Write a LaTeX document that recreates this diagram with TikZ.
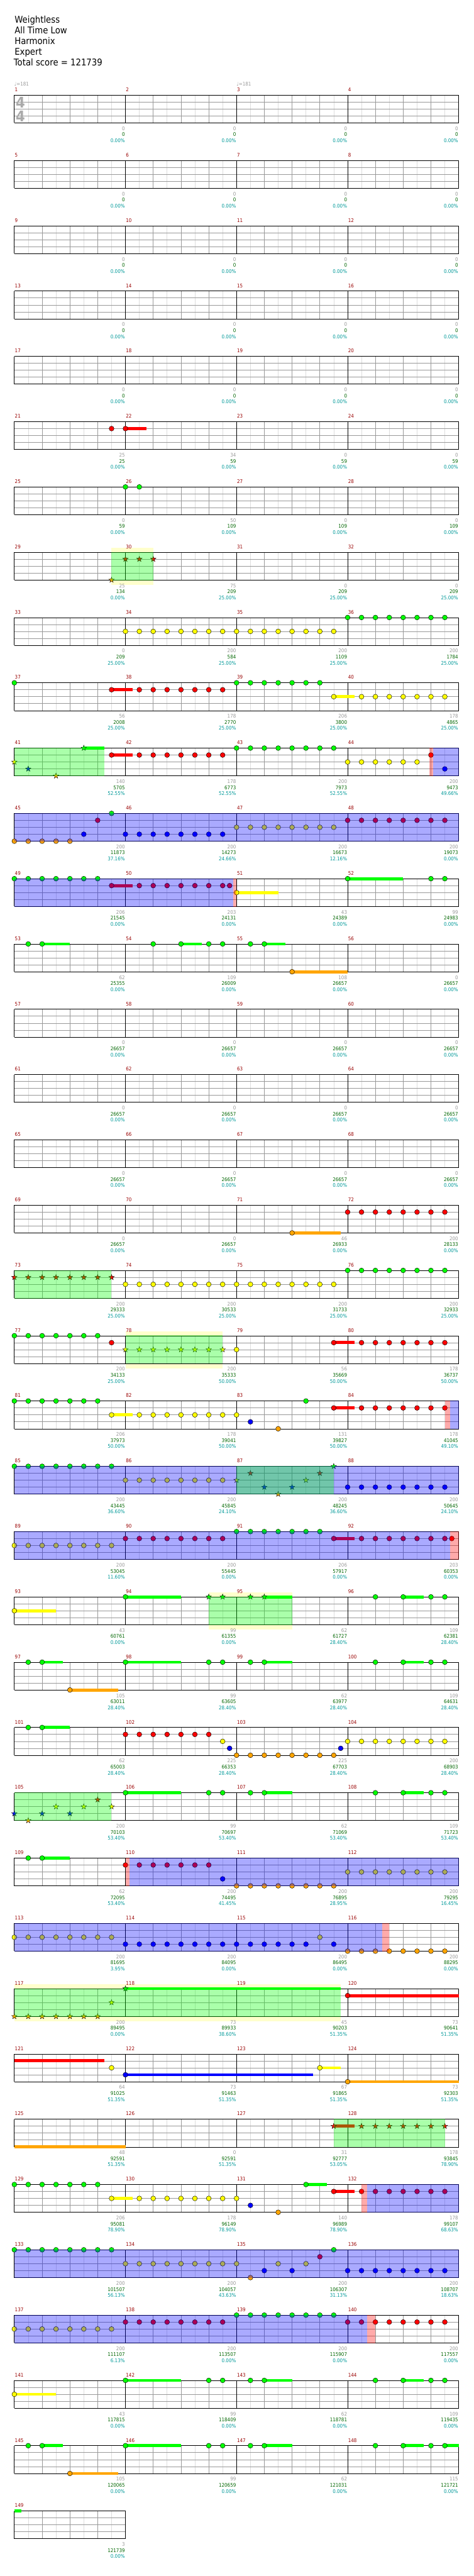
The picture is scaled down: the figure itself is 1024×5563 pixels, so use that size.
\documentclass[tikz,border=0pt]{standalone}
\usepackage{fontspec}
\setmainfont{DejaVu Sans}[FakeStretch=0.9]
\usetikzlibrary{shapes.geometric}
\definecolor{cG}{RGB}{0,255,0}
\definecolor{cR}{RGB}{255,0,0}
\definecolor{cY}{RGB}{255,255,0}
\definecolor{cB}{RGB}{0,0,255}
\definecolor{cO}{RGB}{255,165,0}
\definecolor{cYB}{RGB}{255,255,204}
\definecolor{cML}{RGB}{153,0,0}
\definecolor{cS1}{RGB}{153,153,153}
\definecolor{cS2}{RGB}{0,102,0}
\definecolor{cS3}{RGB}{0,153,153}
\definecolor{cGL}{RGB}{221,221,221}
\definecolor{cGM}{RGB}{153,153,153}
\definecolor{cTS}{RGB}{170,170,170}
\newcommand\chsm{\fontsize{10.8}{12}\selectfont}
\tikzset{
  gl/.style={draw=cGL,line width=0.9pt},
  gm/.style={draw=cGM,line width=0.9pt},
  barl/.style={draw=black,line width=0.9pt},
  mlab/.style={text=cML,font=\chsm,inner sep=0pt,anchor=base west},
  scl/.style={font=\chsm,inner sep=0pt,anchor=base east},
  hd/.style={font=\fontsize{20}{22}\selectfont,inner sep=0pt,anchor=base west},
  tempo/.style={text=cS1,font=\chsm,inner sep=0pt,anchor=base west},
  tsig/.style={text=cTS,font=\fontsize{32}{34}\selectfont\bfseries,inner sep=0pt,anchor=base west},
  starn/.style={star,star points=5,star point ratio=2.5,minimum size=12.5pt,inner sep=0pt,draw=black,line width=0.5pt}
}
\newcommand\chAt[1]{\pgfmathtruncatemacro\rn{#1}\pgfmathsetmacro\ry{205.5+141*(\rn-1)}}
\newcommand\chStaff[1]{%
  \pgfmathsetmacro\xe{31+240*#1}%
  \pgfmathtruncatemacro\ne{8*#1-1}%
  \pgfmathtruncatemacro\nm{#1-1}%
  \fill[white] (31,\ry) rectangle (\xe,{\ry+60});
  \foreach \i in {1,3,...,\ne}{\draw[gl] ({31+30*\i},\ry) -- ({31+30*\i},{\ry+60});}
  \foreach \j in {1,2,3}{\draw[gm] (31,{\ry+15*\j}) -- (\xe,{\ry+15*\j});}
  \foreach \i in {2,4,...,\ne}{\draw[gm] ({31+30*\i},\ry) -- ({31+30*\i},{\ry+60});}
  \foreach \k in {0,...,#1}{\draw[barl] ({31+240*\k},\ry) -- ({31+240*\k},{\ry+60});}
  \draw[barl] (31,\ry) -- (\xe,\ry) (31,{\ry+60}) -- (\xe,{\ry+60});
  \foreach \k in {0,...,\nm}{\pgfmathtruncatemacro\mm{4*(\rn-1)+\k+1}\node[mlab] (m\mm) at ({32+240*\k},{\ry-7.8}) {\mm};}
}
\newcommand\chNote[3]{\fill[#3,draw=black,line width=0.6pt] ({31+30*(#1)},{\ry+15*(#2)}) circle[radius=5.3];}
\newcommand\chNotes[3]{\foreach \p in {#1}{\chNote{\p}{#2}{#3}}}
\newcommand\chSus[4]{\fill[#4] ({31+30*(#1)},{\ry+15*(#3)-3.3}) rectangle ({31+30*(#2)},{\ry+15*(#3)+3.3});}
\newcommand\chStar[3]{\node[starn,fill=#3] (st-\rn-#1-#2) at ({31+30*(#1)},{\ry+15*(#2)}) {};}
\newcommand\chStars[3]{\foreach \p in {#1}{\chStar{\p}{#2}{#3}}}
\newcommand\chOv[3]{\fill[#3,fill opacity=0.333] ({31+30*(#1)},{\ry-0.5}) rectangle ({31+30*(#2)},{\ry+60.5});}
\newcommand\chYb[2]{\fill[cYB] ({31+30*(#1)},{\ry-10}) rectangle ({31+30*(#2)},{\ry+71});}
\newcommand\chSc[4]{%
  \node[scl,text=cS1] (sa-\rn-#1) at ({31+240*#1-1},{\ry+76.2}) {#2};
  \node[scl,text=cS2] (sb-\rn-#1) at ({31+240*#1-1},{\ry+89.2}) {#3};
  \node[scl,text=cS3] (sc-\rn-#1) at ({31+240*#1-1},{\ry+102.2}) {#4\%};}
\begin{document}
\begin{tikzpicture}[x=1pt,y=-1pt]
\useasboundingbox (0,0) rectangle (1024,5563);
\fill[white] (0,0) rectangle (1024,5563);
% header
\node[hd] (t1) at (31.5,49.3) {Weightless};
\node[hd] (t2) at (31.5,72.3) {All Time Low};
\node[hd] (t3) at (31.5,95.3) {Harmonix};
\node[hd] (t4) at (31.5,118.3) {Expert};
\node[hd] (t5) at (29.5,141.3) {Total score = 121739};
% row 1
\chAt{1}\chStaff{4}
\node[tempo] (tp1) at (31,185) {♩=181};
\node[tempo] (tp3) at (511,185) {♩=181};
\node[tsig] (ts1) at (34,232.3) {4};
\node[tsig] (ts2) at (34,262.3) {4};
\foreach \q in {1,...,4}{\chSc{\q}{0}{0}{0.00}}
% empty rows
\foreach \r/\v in {2/0,3/0,4/0,5/0,15/26657,16/26657,17/26657}{\chAt{\r}\chStaff{4}\foreach \q in {1,...,4}{\chSc{\q}{0}{\v}{0.00}}}
% row 6
\chAt{6}\chStaff{4}
\chSus{8}{9.5}{1}{cR}\chNotes{7,8}{1}{cR}
\chSc{1}{25}{25}{0.00}\chSc{2}{34}{59}{0.00}\chSc{3}{0}{59}{0.00}\chSc{4}{0}{59}{0.00}
% row 7
\chAt{7}\chStaff{4}
\chNotes{8,9}{0}{cG}
\chSc{1}{0}{59}{0.00}\chSc{2}{50}{109}{0.00}\chSc{3}{0}{109}{0.00}\chSc{4}{0}{109}{0.00}
% row 8
\chAt{8}\chYb{7}{10}\chStaff{4}
\chStar{7}{4}{cO}\chStars{8,9,10}{1}{cR}
\chOv{7}{10}{cG}
\chSc{1}{25}{134}{0.00}\chSc{2}{75}{209}{25.00}\chSc{3}{0}{209}{25.00}\chSc{4}{0}{209}{25.00}
% row 9
\chAt{9}\chStaff{4}
\chNotes{8,...,23}{2}{cY}\chNotes{24,...,31}{0}{cG}
\chSc{1}{0}{209}{25.00}\chSc{2}{200}{584}{25.00}\chSc{3}{200}{1109}{25.00}\chSc{4}{200}{1784}{25.00}
% row 10
\chAt{10}\chStaff{4}
\chNote{0}{0}{cG}\chSus{7}{8.5}{1}{cR}\chNotes{7,9,10,11,12,13,14,15}{1}{cR}\chNotes{16,...,22}{0}{cG}
\chSus{23}{24.5}{2}{cY}\chNotes{23,25,26,27,28,29,30,31}{2}{cY}
\chSc{1}{56}{2008}{25.00}\chSc{2}{178}{2770}{25.00}\chSc{3}{206}{3800}{25.00}\chSc{4}{178}{4865}{25.00}
% row 11
\chAt{11}\chStaff{4}
\chSus{5}{6.5}{0}{cG}\chStar{0}{2}{cY}\chStar{1}{3}{cB}\chStar{3}{4}{cO}\chStar{5}{0}{cG}
\chSus{7}{8.5}{1}{cR}\chNotes{7,9,10,11,12,13,14,15}{1}{cR}\chNotes{16,...,23}{0}{cG}\chNotes{24,...,29}{2}{cY}
\chNote{30}{1}{cR}\chNote{31}{3}{cB}
\chOv{0}{6.5}{cG}\chOv{29.9}{30.15}{cR}\chOv{30.15}{32}{cB}
\chSc{1}{140}{5705}{52.55}\chSc{2}{178}{6773}{52.55}\chSc{3}{200}{7973}{52.55}\chSc{4}{200}{9473}{49.66}
% row 12
\chAt{12}\chStaff{4}
\chNotes{0,...,4}{4}{cO}\chNote{5}{3}{cB}\chNote{6}{1}{cR}\chNote{7}{0}{cG}\chNotes{8,...,15}{3}{cB}\chNotes{16,...,23}{2}{cY}\chNotes{24,...,31}{1}{cR}
\chOv{0}{32}{cB}
\chSc{1}{200}{11873}{37.16}\chSc{2}{200}{14273}{24.66}\chSc{3}{200}{16673}{12.16}\chSc{4}{200}{19073}{0.00}
% row 13
\chAt{13}\chStaff{4}
\chNotes{0,...,6}{0}{cG}\chSus{7}{8.5}{1}{cR}\chNotes{7,9,10,11,12,13,14,15,15.5}{1}{cR}
\chSus{16}{19}{2}{cY}\chNote{16}{2}{cY}\chSus{24}{28}{0}{cG}\chNotes{24,30,31}{0}{cG}
\chOv{0}{15.75}{cB}\chOv{15.75}{16}{cR}
\chSc{1}{206}{21545}{0.00}\chSc{2}{203}{24131}{0.00}\chSc{3}{43}{24389}{0.00}\chSc{4}{99}{24983}{0.00}
% row 14
\chAt{14}\chStaff{4}
\chSus{2}{4}{0}{cG}\chSus{12}{13.5}{0}{cG}\chSus{18}{19.5}{0}{cG}\chNotes{1,2,10,12,14,15,17,18}{0}{cG}
\chSus{20}{24}{4}{cO}\chNote{20}{4}{cO}
\chSc{1}{62}{25355}{0.00}\chSc{2}{109}{26009}{0.00}\chSc{3}{108}{26657}{0.00}\chSc{4}{0}{26657}{0.00}
% row 18
\chAt{18}\chStaff{4}
\chSus{20}{23.5}{4}{cO}\chNote{20}{4}{cO}\chNotes{24,...,31}{1}{cR}
\chSc{1}{0}{26657}{0.00}\chSc{2}{0}{26657}{0.00}\chSc{3}{46}{26933}{0.00}\chSc{4}{200}{28133}{0.00}
% row 19
\chAt{19}\chStaff{4}
\chStars{0,...,7}{1}{cR}\chNotes{8,...,23}{2}{cY}\chNotes{24,...,31}{0}{cG}
\chOv{0}{7}{cG}
\chSc{1}{200}{29333}{25.00}\chSc{2}{200}{30533}{25.00}\chSc{3}{200}{31733}{25.00}\chSc{4}{200}{32933}{25.00}
% row 20
\chAt{20}\chYb{8}{15}\chStaff{4}
\chNotes{0,...,6}{0}{cG}\chNote{7}{1}{cR}\chStars{8,...,15}{2}{cY}\chNote{16}{2}{cY}
\chSus{23}{24.5}{1}{cR}\chNotes{23,25,26,27,28,29,30,31}{1}{cR}
\chOv{8}{15}{cG}
\chSc{1}{200}{34133}{25.00}\chSc{2}{200}{35333}{50.00}\chSc{3}{56}{35669}{50.00}\chSc{4}{178}{36737}{50.00}
% row 21
\chAt{21}\chStaff{4}
\chNotes{0,...,6}{0}{cG}\chSus{7}{8.5}{2}{cY}\chNotes{7,9,10,11,12,13,14,15,16}{2}{cY}\chNote{17}{3}{cB}\chNote{19}{4}{cO}\chNote{21}{0}{cG}
\chSus{23}{24.5}{1}{cR}\chNotes{23,25,26,27,28,29,30,31}{1}{cR}
\chOv{31}{31.4}{cR}\chOv{31.4}{32}{cB}
\chSc{1}{206}{37973}{50.00}\chSc{2}{178}{39041}{50.00}\chSc{3}{131}{39827}{50.00}\chSc{4}{178}{41045}{49.10}
% row 22
\chAt{22}\chStaff{4}
\chNotes{0,...,7}{0}{cG}\chNotes{8,...,15}{2}{cY}
\chStar{16}{2}{cY}\chStar{17}{1}{cR}\chStar{18}{3}{cB}\chStar{19}{4}{cO}\chStar{20}{3}{cB}\chStar{21}{2}{cY}\chStar{22}{1}{cR}\chStar{23}{0}{cG}
\chNotes{24,...,31}{3}{cB}
\chOv{0}{32}{cB}\chOv{16}{23}{cG}
\chSc{1}{200}{43445}{36.60}\chSc{2}{200}{45845}{24.10}\chSc{3}{200}{48245}{36.60}\chSc{4}{200}{50645}{24.10}
% row 23
\chAt{23}\chStaff{4}
\chNotes{0,...,7}{2}{cY}\chNotes{8,...,15}{1}{cR}\chNotes{16,...,22}{0}{cG}
\chSus{23}{24.5}{1}{cR}\chNotes{23,25,26,27,28,29,30,31,31.5}{1}{cR}
\chOv{0}{31.4}{cB}\chOv{31.4}{32}{cR}
\chSc{1}{200}{53045}{11.60}\chSc{2}{200}{55445}{0.00}\chSc{3}{206}{57917}{0.00}\chSc{4}{203}{60353}{0.00}
% row 24
\chAt{24}\chYb{14}{20}\chStaff{4}
\chSus{0}{3}{2}{cY}\chNote{0}{2}{cY}\chSus{8}{12}{0}{cG}\chNote{8}{0}{cG}
\chSus{18}{20}{0}{cG}\chStars{14,15,17,18}{0}{cG}
\chSus{28}{29.5}{0}{cG}\chNotes{26,28,30,31}{0}{cG}
\chOv{14}{20}{cG}
\chSc{1}{43}{60761}{0.00}\chSc{2}{99}{61355}{0.00}\chSc{3}{62}{61727}{28.40}\chSc{4}{109}{62381}{28.40}
% row 25
\chAt{25}\chStaff{4}
\chSus{2}{3.5}{0}{cG}\chSus{4}{7.5}{4}{cO}\chNote{4}{4}{cO}\chSus{8}{12}{0}{cG}\chSus{18}{20}{0}{cG}\chSus{28}{29.5}{0}{cG}
\chNotes{1,2,8,14,15,17,18,26,28,30,31}{0}{cG}
\chSc{1}{105}{63011}{28.40}\chSc{2}{99}{63605}{28.40}\chSc{3}{62}{63977}{28.40}\chSc{4}{109}{64631}{28.40}
% row 26
\chAt{26}\chStaff{4}
\chSus{2}{4}{0}{cG}\chNotes{1,2}{0}{cG}\chNotes{8,...,14}{1}{cR}\chNote{15}{2}{cY}\chNote{15.5}{3}{cB}
\chNotes{16,...,23}{4}{cO}\chNote{23.5}{3}{cB}\chNotes{24,...,31}{2}{cY}
\chSc{1}{62}{65003}{28.40}\chSc{2}{225}{66353}{28.40}\chSc{3}{225}{67703}{28.40}\chSc{4}{200}{68903}{28.40}
% row 27
\chAt{27}\chStaff{4}
\chStar{0}{3}{cB}\chStar{1}{4}{cO}\chStar{2}{3}{cB}\chStar{3}{2}{cY}\chStar{4}{3}{cB}\chStar{5}{2}{cY}\chStar{6}{1}{cR}\chStar{7}{2}{cY}
\chOv{0}{7}{cG}
\chSus{8}{12}{0}{cG}\chSus{18}{20}{0}{cG}\chSus{28}{29.5}{0}{cG}\chNotes{8,14,15,17,18,26,28,30,31}{0}{cG}
\chSc{1}{200}{70103}{53.40}\chSc{2}{99}{70697}{53.40}\chSc{3}{62}{71069}{53.40}\chSc{4}{109}{71723}{53.40}
% row 28
\chAt{28}\chStaff{4}
\chSus{2}{4}{0}{cG}\chNotes{1,2}{0}{cG}\chNotes{8,...,14}{1}{cR}\chNote{15}{3}{cB}\chNotes{16,...,23}{4}{cO}\chNotes{24,...,31}{2}{cY}
\chOv{8}{8.3}{cR}\chOv{8.3}{32}{cB}
\chSc{1}{62}{72095}{53.40}\chSc{2}{200}{74495}{41.45}\chSc{3}{200}{76895}{28.95}\chSc{4}{200}{79295}{16.45}
% row 29
\chAt{29}\chStaff{4}
\chNotes{0,...,7}{2}{cY}\chNotes{8,...,21}{3}{cB}\chNote{22}{2}{cY}\chNote{23}{3}{cB}\chNotes{24,...,31}{4}{cO}
\chOv{0}{26.5}{cB}\chOv{26.5}{27}{cR}
\chSc{1}{200}{81695}{3.95}\chSc{2}{200}{84095}{0.00}\chSc{3}{200}{86495}{0.00}\chSc{4}{200}{88295}{0.00}
% row 30
\chAt{30}\chYb{0}{23.5}\chStaff{4}
\chStars{0,...,6}{4}{cO}\chStar{7}{2}{cY}\chSus{8}{23.5}{0}{cG}\chStar{8}{0}{cG}
\chSus{24}{32}{1}{cR}\chNote{24}{1}{cR}
\chOv{0}{23.5}{cG}
\chSc{1}{200}{89495}{0.00}\chSc{2}{73}{89933}{38.60}\chSc{3}{45}{90203}{51.35}\chSc{4}{73}{90641}{51.35}
% row 31
\chAt{31}\chStaff{4}
\chSus{0}{6.5}{1}{cR}\chNote{7}{2}{cY}\chSus{8}{21.5}{3}{cB}\chNote{8}{3}{cB}
\chSus{22}{23.5}{2}{cY}\chNote{22}{2}{cY}\chSus{24}{32}{4}{cO}\chNote{24}{4}{cO}
\chSc{1}{64}{91025}{51.35}\chSc{2}{73}{91463}{51.35}\chSc{3}{67}{91865}{51.35}\chSc{4}{73}{92303}{51.35}
% row 32
\chAt{32}\chStaff{4}
\chSus{0}{8}{4}{cO}\chSus{23}{24.5}{1}{cR}\chStars{23,25,26,27,28,29,30,31}{1}{cR}
\chOv{23}{31}{cG}
\chSc{1}{48}{92591}{51.35}\chSc{2}{0}{92591}{51.35}\chSc{3}{31}{92777}{53.05}\chSc{4}{178}{93845}{78.90}
% row 33
\chAt{33}\chStaff{4}
\chNotes{0,...,6}{0}{cG}\chSus{7}{8.5}{2}{cY}\chNotes{7,9,10,11,12,13,14,15,16}{2}{cY}\chNote{17}{3}{cB}\chNote{19}{4}{cO}
\chSus{21}{22.5}{0}{cG}\chNote{21}{0}{cG}\chSus{23}{24.5}{1}{cR}\chNotes{23,25,26,27,28,29,30,31}{1}{cR}
\chOv{25}{25.4}{cR}\chOv{25.4}{32}{cB}
\chSc{1}{206}{95081}{78.90}\chSc{2}{178}{96149}{78.90}\chSc{3}{140}{96989}{78.90}\chSc{4}{178}{99107}{68.63}
% row 34
\chAt{34}\chStaff{4}
\chNotes{0,...,7}{0}{cG}\chNotes{8,...,16}{2}{cY}\chNote{17}{4}{cO}\chNote{18}{3}{cB}\chNote{19}{2}{cY}\chNote{20}{3}{cB}\chNote{21}{2}{cY}\chNote{22}{1}{cR}\chNote{23}{0}{cG}
\chNotes{24,...,31}{3}{cB}
\chOv{0}{32}{cB}
\chSc{1}{200}{101507}{56.13}\chSc{2}{200}{104057}{43.63}\chSc{3}{200}{106307}{31.13}\chSc{4}{200}{108707}{18.63}
% row 35
\chAt{35}\chStaff{4}
\chNotes{0,...,7}{2}{cY}\chNotes{8,...,15}{1}{cR}\chNotes{16,...,23}{0}{cG}\chNotes{24,...,31}{1}{cR}
\chOv{0}{25.4}{cB}\chOv{25.4}{26}{cR}
\chSc{1}{200}{111107}{6.13}\chSc{2}{200}{113507}{0.00}\chSc{3}{200}{115907}{0.00}\chSc{4}{200}{117557}{0.00}
% row 36
\chAt{36}\chStaff{4}
\chSus{0}{3}{2}{cY}\chNote{0}{2}{cY}\chSus{8}{12}{0}{cG}\chSus{18}{20}{0}{cG}\chSus{28}{29.5}{0}{cG}
\chNotes{8,14,15,17,18,26,28,30,31}{0}{cG}
\chSc{1}{43}{117815}{0.00}\chSc{2}{99}{118409}{0.00}\chSc{3}{62}{118781}{0.00}\chSc{4}{109}{119435}{0.00}
% row 37
\chAt{37}\chStaff{4}
\chSus{2}{3.5}{0}{cG}\chSus{4}{7.5}{4}{cO}\chNote{4}{4}{cO}\chSus{8}{12}{0}{cG}\chSus{18}{20}{0}{cG}\chSus{28}{29.5}{0}{cG}\chSus{31}{32}{0}{cG}
\chNotes{1,2,8,14,15,17,18,26,28,30,31}{0}{cG}
\chSc{1}{105}{120065}{0.00}\chSc{2}{99}{120659}{0.00}\chSc{3}{62}{121031}{0.00}\chSc{4}{115}{121721}{0.00}
% row 38
\chAt{38}\chStaff{1}
\chSus{0}{0.5}{0}{cG}
\chSc{1}{3}{121739}{0.00}
\end{tikzpicture}
\end{document}
